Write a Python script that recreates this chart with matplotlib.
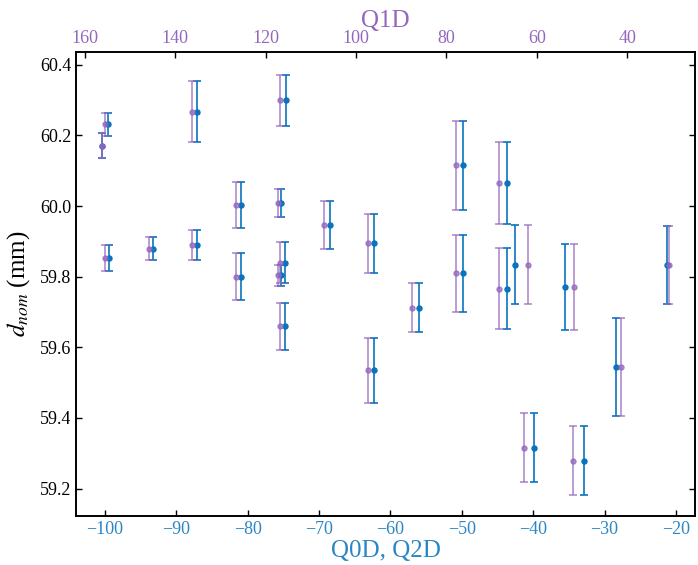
import numpy as np
import matplotlib.pyplot as plt

plt.rcParams['font.family'] = ['Liberation Serif', 'DejaVu Serif']
plt.rcParams['mathtext.fontset'] = 'stix'

# Q0D / Q2D settings (bottom axis) and matching Q1D settings (top axis)
q02 = [-100.47, -99.54, -99.49, -93.33, -87.14, -87.14, -80.98, -80.98,
       -74.69, -75.29, -74.73, -75.39, -74.73, -68.54, -62.28, -62.28,
       -56.05, -49.89, -49.89, -43.64, -43.64, -42.52, -39.91, -35.53,
       -32.87, -28.44, -21.22]
q1 = [156.2, 155.5, 155.4, 145.75, 136.2, 136.17, 126.5, 126.5,
      116.77, 117.3, 116.77, 117.3, 116.77, 107.03, 97.3, 97.3,
      87.72, 77.98, 77.98, 68.47, 68.47, 62.05, 62.78, 51.79,
      52.1, 41.4, 30.86]
d_nom = [60.171, 60.231, 59.853, 59.879, 60.267, 59.889, 60.003, 59.800,
         60.299, 60.009, 59.840, 59.804, 59.659, 59.945, 59.894, 59.535,
         59.712, 60.116, 59.810, 60.066, 59.766, 59.834, 59.316, 59.770,
         59.279, 59.545, 59.833]
d_err = [0.035, 0.032, 0.037, 0.033, 0.086, 0.042, 0.066, 0.067,
         0.072, 0.040, 0.058, 0.029, 0.066, 0.068, 0.083, 0.092,
         0.070, 0.126, 0.109, 0.116, 0.115, 0.111, 0.098, 0.122,
         0.098, 0.139, 0.111]

blue = '#0a73bd'
purple = '#9467bd'

fig = plt.figure(figsize=(6.98, 5.65), dpi=100)
ax = fig.add_axes([0.109, 0.087, 0.887, 0.821])

ax.errorbar(q02, d_nom, yerr=d_err, fmt='o', color=blue, ms=3.6,
            elinewidth=1.2, capsize=2.8, capthick=1.2)
ax.set_xlim(-104.06, -17.3)
ax.set_ylim(59.123, 60.436)
ax.set_xticks(np.arange(-100, -19, 10))
ax.set_yticks([59.2, 59.4, 59.6, 59.8, 60.0, 60.2, 60.4])
ax.set_xlabel('Q0D, Q2D', color='#2a86c4', fontsize=18, labelpad=2)
ax.set_ylabel(r'$d_{nom}$ (mm)', fontsize=18, labelpad=6)
ax.tick_params(axis='x', colors='#2a86c4', labelcolor='#2a86c4')
ax.tick_params(axis='x', color='black')
ax.tick_params(direction='in', labelsize=13, length=4, width=1)
ax.tick_params(axis='y', right=True)

ax2 = ax.twiny()
ax2.errorbar(q1, d_nom, yerr=d_err, fmt='o', color=purple, ms=3.6,
             elinewidth=1.2, capsize=2.8, capthick=1.2, alpha=0.75)
ax2.set_xlim(161.9, 25.0)
ax2.set_xticks(np.arange(160, 39, -20))
ax2.set_xlabel('Q1D', color=purple, fontsize=18, labelpad=2)
ax2.tick_params(direction='in', labelsize=13, length=4, width=1,
                labelcolor=purple, color='black')

for a in (ax, ax2):
    for s in a.spines.values():
        s.set_linewidth(1.2)

fig.savefig('out.png', dpi=100)
